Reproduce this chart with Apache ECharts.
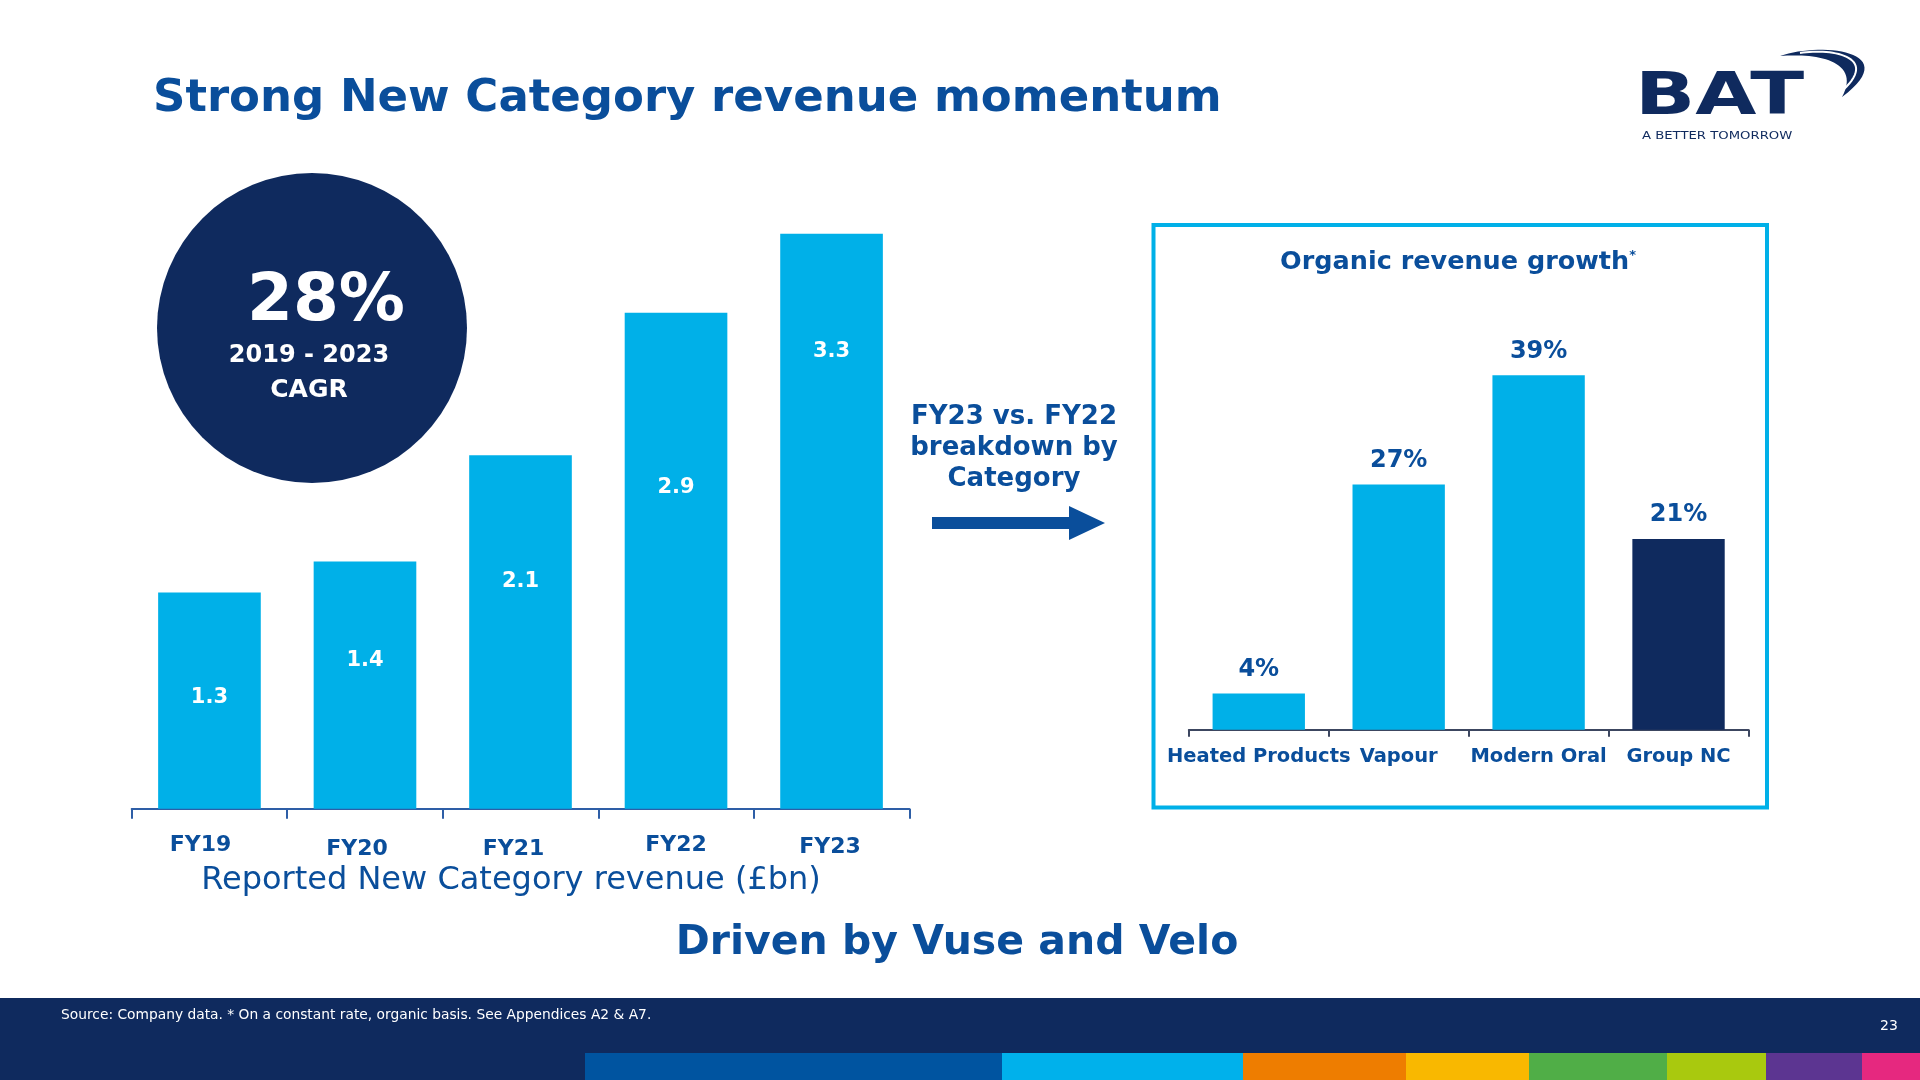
<!DOCTYPE html>
<html>
<head>
<meta charset="utf-8">
<script src="https://cdn.jsdelivr.net/npm/echarts@6/dist/echarts.min.js"></script>
<style>
html,body{margin:0;padding:0;background:#fff;}
#chart{width:1920px;height:1080px;}
</style>
</head>
<body>
<div id="chart"></div>
<script>
// ---- data ----
const revenueCategories = ['FY19', 'FY20', 'FY21', 'FY22', 'FY23'];
const revenueValues = [1.26, 1.44, 2.06, 2.89, 3.35];
const revenueLabels = ['1.3', '1.4', '2.1', '2.9', '3.3'];
const growthCategories = ['Heated Products', 'Vapour', 'Modern Oral', 'Group NC'];
const growthValues = [4, 27, 39, 21];

// ---- styles ----
const CYAN = '#00b0e8';
const NAVY = '#0f2a5e';
const BLUE = '#0a4e9b';
const FONT = '"DejaVu Sans", sans-serif';
const growthColors = [CYAN, CYAN, CYAN, NAVY];
const revenueLabelDrop = [105, 99, 126, 175, 118];
const categoryLabelShift = [[-9, 0], [-8, 3.5], [-7, 3.5], [0, -0.5], [-1.5, 1.5]];
const stripeColors = ['#0054a0', '#00b1eb', '#ee7d00', '#f9b800', '#50ae47', '#a9c90e', '#5c3591', '#e6287f'];
const stripeEdges = [585, 1002, 1243, 1406, 1529, 1667, 1766, 1862, 1920];

// helper for logo swoosh (decoration only)
function cubic(p0, c1, c2, p1, n) {
  const pts = [];
  for (let i = 0; i <= n; i++) {
    const t = i / n, u = 1 - t;
    const a = u * u * u, b = 3 * u * u * t, c = 3 * u * t * t, d = t * t * t;
    pts.push([a * p0[0] + b * c1[0] + c * c2[0] + d * p1[0], a * p0[1] + b * c1[1] + c * c2[1] + d * p1[1]]);
  }
  return pts;
}
function band(s, e, oc1, oc2, ic1, ic2) {
  return cubic(s, oc1, oc2, e, 30).concat(cubic(e, ic2, ic1, s, 30).slice(1));
}

const chart = echarts.init(document.getElementById('chart'));

const graphics = [];
// circle
graphics.push({type: 'circle', shape: {cx: 312, cy: 328, r: 155}, style: {fill: NAVY}, z: 1});
graphics.push({type: 'text', style: {text: '28%', x: 326, y: 303, fill: '#fff', font: 'bold 66px ' + FONT, textAlign: 'center', textVerticalAlign: 'middle'}, z: 2});
graphics.push({type: 'text', style: {text: '2019 - 2023', x: 309, y: 356, fill: '#fff', font: 'bold 24px ' + FONT, textAlign: 'center', textVerticalAlign: 'middle'}, z: 2});
graphics.push({type: 'text', style: {text: 'CAGR', x: 309, y: 390, fill: '#fff', font: 'bold 25px ' + FONT, textAlign: 'center', textVerticalAlign: 'middle'}, z: 2});
// title
graphics.push({type: 'text', style: {text: 'Strong New Category revenue momentum', x: 153, y: 99, fill: BLUE, font: 'bold 45px ' + FONT, textAlign: 'left', textVerticalAlign: 'middle'}});
// axis caption
graphics.push({type: 'text', style: {text: 'Reported New Category revenue (£bn)', x: 511, y: 881, fill: BLUE, font: '32px ' + FONT, textAlign: 'center', textVerticalAlign: 'middle'}});
// middle note
graphics.push({type: 'text', style: {text: 'FY23 vs. FY22\nbreakdown by\nCategory', x: 1014, y: 448, fill: BLUE, font: 'bold 26px ' + FONT, lineHeight: 31, textAlign: 'center', textVerticalAlign: 'middle'}});
// arrow
graphics.push({type: 'polygon', shape: {points: [[932, 517], [1069, 517], [1069, 506], [1105, 523], [1069, 540], [1069, 529], [932, 529]]}, style: {fill: '#0a4e9b'}});
// box
graphics.push({type: 'rect', shape: {x: 1153.5, y: 225, width: 613.5, height: 582.5}, style: {fill: 'none', stroke: CYAN, lineWidth: 4}});
graphics.push({type: 'text', style: {text: '{a|Organic revenue growth}{b|*}', x: 1458, y: 262, textAlign: 'center', textVerticalAlign: 'middle',
  rich: {a: {fill: BLUE, font: 'bold 25.5px ' + FONT, color: BLUE}, b: {fill: BLUE, color: BLUE, font: 'bold 13px ' + FONT, verticalAlign: 'top', padding: [0, 0, 12, 0]}}}});
// bottom tagline
graphics.push({type: 'text', style: {text: 'Driven by Vuse and Velo', x: 957, y: 943, fill: BLUE, font: 'bold 41px ' + FONT, textAlign: 'center', textVerticalAlign: 'middle'}});
// footer
graphics.push({type: 'rect', shape: {x: 0, y: 998, width: 1920, height: 82}, style: {fill: NAVY}});
graphics.push({type: 'text', style: {text: 'Source: Company data. * On a constant rate, organic basis. See Appendices A2 & A7.', x: 61, y: 1015, fill: '#fff', font: '13.8px ' + FONT, textAlign: 'left', textVerticalAlign: 'middle'}});
graphics.push({type: 'text', style: {text: '23', x: 1889, y: 1026, fill: '#fff', font: '14px ' + FONT, textAlign: 'center', textVerticalAlign: 'middle'}});
for (let i = 0; i < stripeColors.length; i++) {
  graphics.push({type: 'rect', shape: {x: stripeEdges[i], y: 1053, width: stripeEdges[i + 1] - stripeEdges[i], height: 27}, style: {fill: stripeColors[i]}});
}
// logo
graphics.push({type: 'text', scaleX: 1.34, originX: 1635, originY: 99, style: {text: 'BAT', x: 1635, y: 99, fill: NAVY, font: 'bold 59px ' + FONT, textAlign: 'left', textVerticalAlign: 'middle'}});
graphics.push({type: 'text', scaleX: 1.32, originX: 1642, originY: 136, style: {text: 'A BETTER TOMORROW', x: 1642, y: 136, fill: NAVY, font: '10px ' + FONT, textAlign: 'left', textVerticalAlign: 'middle'}});
graphics.push({type: 'polygon', shape: {points: band([1780, 56], [1842, 97], [1820, 42], [1905, 50], [1815, 53], [1862, 60])}, style: {fill: NAVY}});
graphics.push({type: 'polyline', shape: {points: cubic([1800, 53], [1830, 48], [1880, 56], [1843, 90], 30)}, style: {stroke: '#ffffff', lineWidth: 2, fill: 'none'}});

const option = {
  animation: false,
  backgroundColor: '#ffffff',
  grid: [
    {left: 131.7, width: 777.6, top: 208, bottom: 271.3, containLabel: false},
    {left: 1188.8, width: 559.7, top: 320.8, bottom: 350.2, containLabel: false}
  ],
  xAxis: [
    {type: 'category', gridIndex: 0, data: revenueCategories,
      axisLine: {lineStyle: {color: '#2e5ea6', width: 2}},
      axisTick: {show: true, length: 10, lineStyle: {color: '#2e5ea6', width: 2}},
      axisLabel: {margin: 25, interval: 0,
        formatter: (v, i) => '{c' + i + '|' + v + '}',
        rich: Object.fromEntries(categoryLabelShift.map((s, i) => ['c' + i, {
          color: BLUE, fontFamily: FONT, fontWeight: 'bold', fontSize: 22,
          padding: [s[1] + 1, s[0] < 0 ? -2 * s[0] : 0, 0, s[0] > 0 ? 2 * s[0] : 0]}]))}},
    {type: 'category', gridIndex: 1, data: growthCategories,
      axisLine: {lineStyle: {color: '#3c4660', width: 2}},
      axisTick: {show: true, length: 7, lineStyle: {color: '#3c4660', width: 2}},
      axisLabel: {color: BLUE, fontFamily: FONT, fontWeight: 'bold', fontSize: 19.5, margin: 17, interval: 0}}
  ],
  yAxis: [
    {type: 'value', gridIndex: 0, min: 0, max: 3.5, show: false},
    {type: 'value', gridIndex: 1, min: 0, max: 45, show: false}
  ],
  series: [
    {type: 'bar', xAxisIndex: 0, yAxisIndex: 0, barWidth: '66%',
      data: revenueValues.map((v, i) => ({value: v, label: {position: ['50%', revenueLabelDrop[i]]}})),
      itemStyle: {color: CYAN},
      label: {show: true, color: '#fff', fontFamily: FONT, fontWeight: 'bold', fontSize: 21, align: 'center', verticalAlign: 'middle',
        formatter: p => revenueLabels[p.dataIndex]}},
    {type: 'bar', xAxisIndex: 1, yAxisIndex: 1, barWidth: '66%',
      data: growthValues.map((v, i) => ({value: v, itemStyle: {color: growthColors[i]}})),
      label: {show: true, position: 'top', distance: 12, color: BLUE, fontFamily: FONT, fontWeight: 'bold', fontSize: 24,
        formatter: p => p.value + '%'}}
  ],
  graphic: graphics
};
chart.setOption(option);
</script>
</body>
</html>
